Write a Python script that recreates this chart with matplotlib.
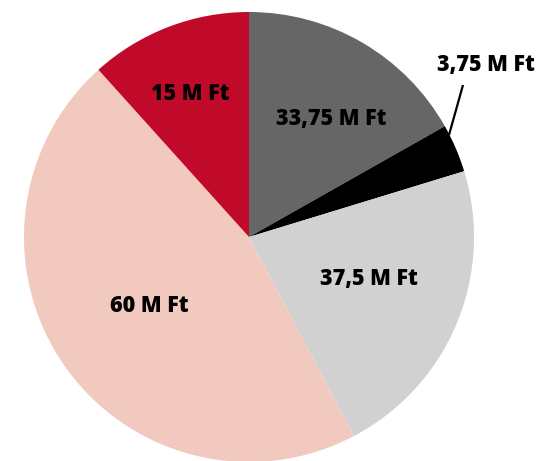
import matplotlib
matplotlib.use("Agg")
import matplotlib.pyplot as plt
import numpy as np

labels = ["33,75 M Ft", "3,75 M Ft", "37,5 M Ft", "60 M Ft", "15 M Ft"]
# slice sizes as drawn in the picture (degrees of the circle)
slice_shares = [60.5, 12.5, 79.2, 165.8, 42.0]
colors = ["#666666", "#000000", "#d1d1d1", "#f2c9be", "#c10a2a"]

# label centre positions (layout, in units of the pie radius relative to centre)
label_pos = [(0.367, 0.529), (1.051, 0.773), (0.533, -0.178), (-0.444, -0.298), (-0.26, 0.64)]

fig = plt.figure(figsize=(5.41, 4.61), dpi=100)
ax = fig.add_axes([0, 0, 1, 1])
cx, cy, R = 249, 237, 225
ax.pie(slice_shares, colors=colors, startangle=90, counterclock=False, radius=1,
       wedgeprops=dict(linewidth=0))
ax.set_xlim((0 - cx) / R, (541 - cx) / R)
ax.set_ylim((cy - 461) / R, (cy - 0) / R)
ax.set_aspect("equal")
ax.axis("off")

half_cap = 7.5 / R
for lab, (x, y) in zip(labels, label_pos):
    ax.text(x, y - half_cap, lab, ha="center", va="baseline", fontsize=15.5,
            fontweight="heavy", family=["Open Sans", "DejaVu Sans"], color="black")

# leader line for the small slice
ax.plot([(449 - cx) / R, (463 - cx) / R], [(cy - 135) / R, (cy - 85) / R],
        color="black", lw=1.6, solid_capstyle="butt")

fig.savefig("out.png", dpi=100)
